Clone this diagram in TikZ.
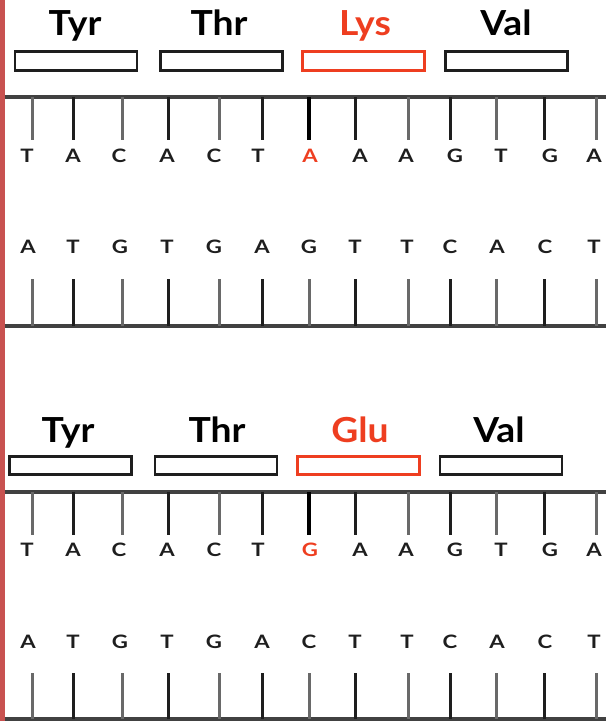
\documentclass[tikz,border=0pt]{standalone}
\usepackage{fontspec}
\setmainfont{Lato}
\newfontfamily\aafont[FakeStretch=1.08]{Lato}
\newfontfamily\nucfont[FakeStretch=1.2]{Lato}
\definecolor{mutred}{RGB}{238,62,32}
\definecolor{barred}{RGB}{200,82,80}
\definecolor{tickgray}{RGB}{105,105,105}
\definecolor{tickdark}{RGB}{30,30,30}
\definecolor{spine}{RGB}{65,65,65}
\begin{document}
\begin{tikzpicture}[x=1pt,y=-1pt,
  codon/.style={draw=tickdark,line width=2.6pt,minimum width=122pt,minimum height=18.5pt,inner sep=0pt},
  mutcodon/.style={codon,draw=mutred},
  aalabel/.style={font=\aafont\bfseries\fontsize{34.5}{35}\selectfont,anchor=base,inner sep=0pt},
  nuc/.style={font=\nucfont\bfseries\fontsize{18.5}{19}\selectfont,anchor=base,inner sep=0pt},
  spineline/.style={draw=spine,line width=3.2pt},
  tick/.style={line width=3pt}]
\useasboundingbox (0,0) rectangle (606,721);
\fill[barred] (0,0) rectangle (4.5,721);

% ---------- top panel ----------
\node[aalabel] (l1) at (75,35) {Tyr};
\node[aalabel] (l2) at (219,35) {Thr};
\node[aalabel,text=mutred] (l3) at (365,35) {Lys};
\node[aalabel] (l4) at (506,35) {Val};
\node[codon] (b1) at (76,61) {};
\node[codon] (b2) at (221.5,61) {};
\node[mutcodon] (b3) at (363.5,61) {};
\node[codon] (b4) at (506.5,61) {};

\coordinate (s1a) at (4.5,97); \coordinate (s1b) at (606,97);
\coordinate (s2a) at (4.5,326); \coordinate (s2b) at (606,326);
\draw[spineline] (s1a) -- (s1b);
\draw[spineline] (s2a) -- (s2b);

\foreach \x/\c in {32/tickgray,73/tickdark,122/tickgray,168/tickdark,219/tickgray,262/tickdark,355/tickdark,408/tickgray,450/tickdark,496/tickgray,544/tickdark,596/tickgray}
  \draw[tick,\c] (\x,97) -- (\x,140);
\draw[line width=4pt,black] (309,97) -- (309,140);
\foreach \x/\c in {32/tickgray,73/tickdark,122/tickgray,168/tickdark,219/tickgray,262/tickdark,309/tickgray,355/tickdark,408/tickgray,450/tickdark,496/tickgray,544/tickdark,596/tickgray}
  \draw[tick,\c] (\x,279) -- (\x,326);

\foreach \x/\l [count=\i] in {27/T,73/A,119/C,167/A,214/C,258/T,360/A,406/A,455/G,501/T,550/G,594/A}
  \node[nuc,text=tickdark] (ta\i) at (\x,162) {\l};
\node[nuc,text=mutred] (tmut) at (310,162) {A};
\foreach \x/\l [count=\i] in {28/A,73/T,120/G,167/T,214/G,262/A,309/G,355/T,407/T,450/C,497/A,545/C,594/T}
  \node[nuc,text=tickdark] (ba\i) at (\x,253) {\l};

% ---------- bottom panel ----------
\node[aalabel] (m1) at (68,442) {Tyr};
\node[aalabel] (m2) at (217,442) {Thr};
\node[aalabel,text=mutred] (m3) at (360,442) {Glu};
\node[aalabel] (m4) at (499,442) {Val};
\node[codon] (c1) at (70.5,465.5) {};
\node[codon] (c2) at (216,465.5) {};
\node[mutcodon] (c3) at (358.5,465.5) {};
\node[codon] (c4) at (501,465.5) {};

\coordinate (s3a) at (4.5,492); \coordinate (s3b) at (606,492);
\coordinate (s4a) at (4.5,719); \coordinate (s4b) at (606,719);
\draw[spineline] (s3a) -- (s3b);
\draw[spineline] (s4a) -- (s4b);

\foreach \x/\c in {32/tickgray,73/tickdark,122/tickgray,168/tickdark,219/tickgray,262/tickdark,355/tickdark,408/tickgray,450/tickdark,496/tickgray,544/tickdark,596/tickgray}
  \draw[tick,\c] (\x,492) -- (\x,535);
\draw[line width=4pt,black] (309,492) -- (309,535);
\foreach \x/\c in {32/tickgray,73/tickdark,122/tickgray,168/tickdark,219/tickgray,262/tickdark,309/tickgray,355/tickdark,408/tickgray,450/tickdark,496/tickgray,544/tickdark,596/tickgray}
  \draw[tick,\c] (\x,673) -- (\x,719);

\foreach \x/\l [count=\i] in {27/T,73/A,119/C,167/A,214/C,258/T,360/A,406/A,455/G,501/T,550/G,594/A}
  \node[nuc,text=tickdark] (tb\i) at (\x,556) {\l};
\node[nuc,text=mutred] (tmut2) at (310,556) {G};
\foreach \x/\l [count=\i] in {28/A,73/T,120/G,167/T,214/G,262/A,309/C,355/T,407/T,450/C,497/A,545/C,594/T}
  \node[nuc,text=tickdark] (bb\i) at (\x,648) {\l};
\end{tikzpicture}
\end{document}
